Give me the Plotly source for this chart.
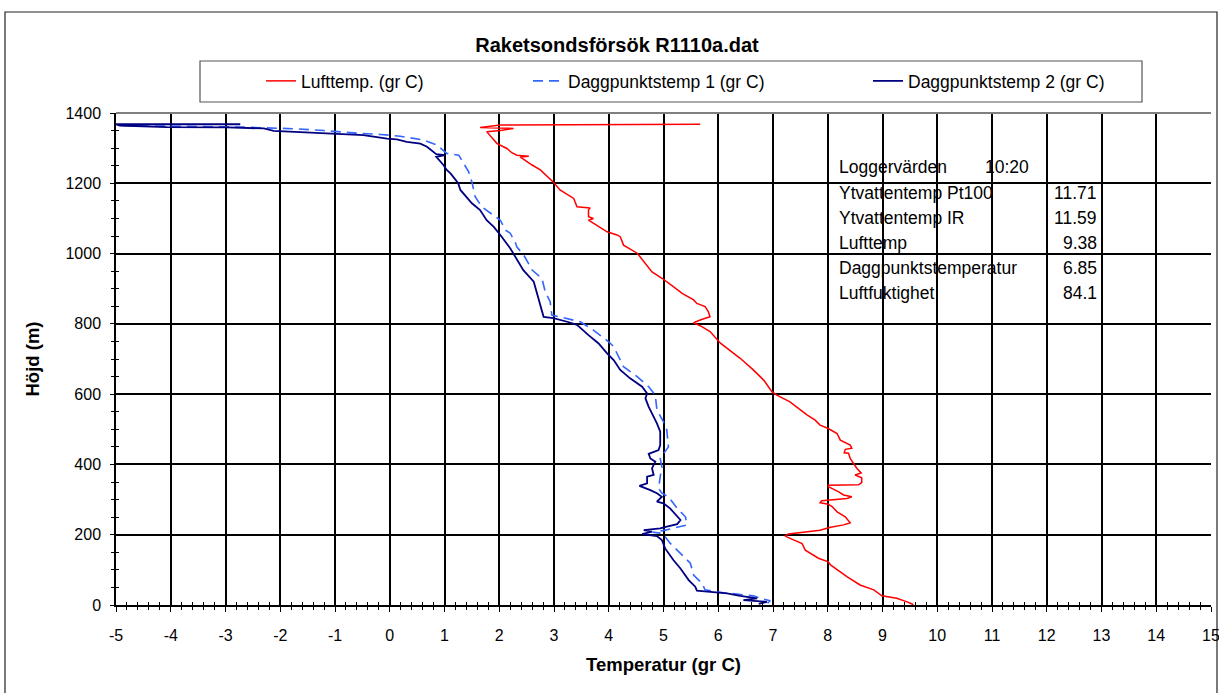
import plotly.graph_objects as go

# ---------------- data ----------------
luft_height = [0, 3, 9, 19, 26, 43, 57, 81, 114, 123, 133, 156, 175, 190, 196, 202, 209, 213, 221, 228,
               234, 244, 251, 265, 280, 287, 291, 297, 301, 303, 308, 313, 322, 329, 337, 341, 342, 348, 362, 370,
               376, 389, 403, 417, 432, 433, 443, 446, 455, 469, 488, 503, 512, 526, 541, 555, 578, 597, 607, 640,
               669, 702, 745, 778, 792, 803, 811, 820, 834, 849, 858, 868, 887, 906, 929, 948, 1001, 1024, 1048, 1053,
               1062, 1095, 1100, 1105, 1124, 1130, 1133, 1157, 1181, 1203, 1238, 1252, 1275, 1277, 1280, 1287, 1299, 1313, 1334, 1347,
               1350, 1356, 1359, 1363, 1366, 1368]
luft_temp = [9.56, 9.54, 9.45, 9.26, 8.99, 8.84, 8.59, 8.35, 8.05, 8.01, 7.83, 7.59, 7.53, 7.31, 7.22, 7.28, 7.62, 7.86, 8.05, 8.29,
             8.41, 8.35, 8.32, 8.17, 8.08, 8.01, 7.86, 7.89, 8.23, 8.35, 8.44, 8.29, 8.20, 8.11, 8.01, 8.01, 8.56, 8.62, 8.62, 8.50,
             8.61, 8.53, 8.47, 8.41, 8.38, 8.30, 8.32, 8.44, 8.41, 8.23, 8.17, 8.00, 7.86, 7.77, 7.62, 7.50, 7.31, 7.07, 6.98, 6.83,
             6.64, 6.40, 6.04, 5.85, 5.70, 5.55, 5.67, 5.85, 5.82, 5.76, 5.61, 5.55, 5.34, 5.18, 4.98, 4.79, 4.52, 4.27, 4.21, 4.15,
             3.97, 3.63, 3.72, 3.63, 3.63, 3.66, 3.42, 3.36, 3.11, 2.99, 2.75, 2.60, 2.38, 2.54, 2.32, 2.23, 2.14, 1.96, 1.84, 1.77,
             2.02, 2.26, 1.65, 1.90, 2.02, 5.67]

dagg1_height = [5, 12, 19, 26, 35, 43, 62, 85, 119, 147, 176, 194, 204, 207, 213, 228, 251, 275, 308, 318,
                332, 365, 393, 417, 436, 450, 498, 521, 555, 597, 621, 650, 678, 735, 749, 782, 806, 818, 825, 863,
                891, 929, 953, 995, 1019, 1029, 1058, 1067, 1095, 1105, 1133, 1162, 1204, 1233, 1280, 1285, 1309, 1323, 1334, 1339,
                1342, 1350, 1355, 1360, 1364]
dagg1_temp = [6.90, 6.95, 6.77, 6.64, 6.10, 5.76, 5.70, 5.55, 5.49, 5.31, 5.12, 5.03, 4.97, 4.80, 5.03, 5.43, 5.40, 5.25, 5.09, 4.97,
              4.91, 4.94, 4.97, 4.94, 5.03, 5.09, 5.06, 5.00, 4.88, 4.85, 4.73, 4.52, 4.27, 4.09, 4.00, 3.72, 3.48, 3.11, 2.96, 2.93,
              2.84, 2.78, 2.60, 2.45, 2.32, 2.30, 2.20, 2.11, 2.02, 1.93, 1.68, 1.56, 1.50, 1.44, 1.26, 1.04, 0.86, 0.62, 0.19, -0.17,
              -0.54, -1.20, -1.73, -2.70, -4.93]

dagg2_height = [3, 9, 14, 19, 26, 33, 41, 52, 71, 104, 128, 161, 185, 196, 202, 209, 213, 218, 223, 230,
                242, 261, 275, 289, 294, 308, 318, 327, 339, 346, 365, 370, 389, 408, 417, 430, 436, 441, 455, 474,
                493, 517, 536, 564, 588, 602, 621, 645, 669, 697, 716, 745, 768, 797, 806, 816, 820, 853, 891, 920,
                953, 991, 1015, 1053, 1076, 1095, 1124, 1143, 1166, 1181, 1200, 1228, 1238, 1252, 1275, 1280, 1283, 1290, 1304, 1313,
                1318, 1325, 1327, 1337, 1340, 1345, 1349, 1356, 1359, 1360, 1364, 1368, 1368]
dagg2_temp = [6.74, 6.89, 6.46, 6.71, 6.40, 6.16, 5.61, 5.58, 5.46, 5.31, 5.18, 5.03, 4.97, 4.88, 4.61, 4.79, 4.64, 4.94, 5.06, 5.25,
              5.31, 5.21, 5.12, 5.00, 4.88, 4.97, 4.88, 4.76, 4.56, 4.70, 4.70, 4.82, 4.79, 4.85, 4.76, 4.73, 4.82, 4.91, 4.94, 4.94,
              4.94, 4.88, 4.82, 4.73, 4.67, 4.70, 4.61, 4.39, 4.21, 4.09, 3.97, 3.81, 3.63, 3.42, 3.24, 2.99, 2.81, 2.75, 2.69, 2.63,
              2.44, 2.29, 2.20, 2.02, 1.90, 1.77, 1.65, 1.50, 1.38, 1.29, 1.25, 1.11, 1.04, 0.98, 0.85, 1.01, 0.85, 0.80, 0.68, 0.56,
              0.31, 0.13, -0.05, -0.48, -0.84, -1.57, -2.12, -2.30, -2.97, -4.07, -4.93, -5.0, -2.73]

series_names = ["Lufttemp. (gr C)", "Daggpunktstemp 1 (gr C)", "Daggpunktstemp 2 (gr C)"]

x_tick_vals = list(range(-5, 16))
x_tick_labels = [str(v) for v in x_tick_vals]
y_tick_vals = list(range(0, 1401, 200))
y_tick_labels = [str(v) for v in y_tick_vals]

table_labels = ["Loggervärden", "Ytvattentemp Pt100", "Ytvattentemp IR", "Lufttemp",
                "Daggpunktstemperatur", "Luftfuktighet"]
table_values = ["10:20", "11.71", "11.59", "9.38", "6.85", "84.1"]

title_text = "Raketsondsförsök R1110a.dat"
x_title = "Temperatur (gr C)"
y_title = "Höjd (m)"

# ---------------- layout geometry ----------------
W, H = 1219, 693
L, R, T, B = 116, 8, 113, 88
PW, PH = W - L - R, H - T - B


def px_x(px):
    return (px - L) / PW


def px_y(py):
    return (H - B - py) / PH


FONT = "Liberation Sans, Arial, sans-serif"
TXT = 17.5

fig = go.Figure()
fig.add_trace(go.Scatter(x=luft_temp, y=luft_height, mode="lines", name=series_names[0],
                         line=dict(color="#FF0000", width=1.5), legend="legend"))
fig.add_trace(go.Scatter(x=dagg1_temp, y=dagg1_height, mode="lines", name=series_names[1],
                         line=dict(color="#3366FF", width=1.6, dash="10px,6px"), legend="legend2"))
fig.add_trace(go.Scatter(x=dagg2_temp, y=dagg2_height, mode="lines", name=series_names[2],
                         line=dict(color="#000080", width=1.8), legend="legend3"))
# empty trace for the overlay axes (cross ticks)
fig.add_trace(go.Scatter(x=[], y=[], xaxis="x2", yaxis="y2", showlegend=False, hoverinfo="skip"))

tickfont = dict(family=FONT, size=16, color="black")

fig.update_layout(
    width=W, height=H,
    margin=dict(l=L, r=R, t=T, b=B, autoexpand=False),
    paper_bgcolor="white", plot_bgcolor="white",
    font=dict(family=FONT, color="black"),
    title=dict(text=title_text, x=617 / W, xanchor="center", y=1 - 45 / H, yanchor="middle",
               font=dict(family=FONT, size=20, weight="bold", color="black")),
    xaxis=dict(range=[-5, 15], tickvals=x_tick_vals, ticktext=x_tick_labels, automargin=False,
               ticklabeloverflow="allow",
               showgrid=True, gridcolor="black", gridwidth=1.5,
               showline=True, linecolor="black", linewidth=1.5, zeroline=False,
               ticks="outside", ticklen=5, tickcolor="black", tickwidth=1.2,
               minor=dict(dtick=0.2, tick0=-5, ticks="outside", ticklen=3, tickcolor="black", tickwidth=1, showgrid=False),
               tickfont=tickfont, ticklabelstandoff=10,
               title=dict(text=x_title, standoff=15, font=dict(family=FONT, size=18.5, weight="bold", color="black"))),
    yaxis=dict(range=[0, 1400], tickvals=y_tick_vals, ticktext=y_tick_labels, automargin=False,
               ticklabeloverflow="allow",
               showgrid=True, gridcolor="black", gridwidth=1.5,
               showline=True, linecolor="black", linewidth=1.5, zeroline=False,
               ticks="outside", ticklen=4, tickcolor="black", tickwidth=1.2,
               minor=dict(dtick=50, tick0=0, ticks="outside", ticklen=3, tickcolor="black", tickwidth=1, showgrid=False),
               tickfont=tickfont, ticklabelstandoff=6,
               title=dict(text=y_title, standoff=21, font=dict(family=FONT, size=18.5, weight="bold", color="black"))),
    xaxis2=dict(overlaying="x", matches="x", anchor="y", side="bottom", range=[-5, 15], automargin=False,
                tickvals=x_tick_vals, showticklabels=False, showgrid=False, zeroline=False, showline=False,
                ticks="inside", ticklen=3, tickcolor="black", tickwidth=1,
                minor=dict(dtick=0.2, tick0=-5, ticks="inside", ticklen=3, tickcolor="black", tickwidth=1, showgrid=False)),
    yaxis2=dict(overlaying="y", matches="y", anchor="x", side="left", range=[0, 1400], automargin=False,
                tickvals=y_tick_vals, showticklabels=False, showgrid=False, zeroline=False, showline=False,
                ticks="inside", ticklen=3, tickcolor="black", tickwidth=1,
                minor=dict(dtick=50, tick0=0, ticks="inside", ticklen=3, tickcolor="black", tickwidth=1, showgrid=False)),
    showlegend=True,
)

leg_common = dict(orientation="h", yanchor="middle", xanchor="left", bgcolor="rgba(0,0,0,0)",
                  borderwidth=0, font=dict(family=FONT, size=TXT, color="black"),
                  itemclick=False, itemdoubleclick=False)
text_starts = [303, 570, 910]
fig.update_layout(
    legend=dict(x=px_x(text_starts[0] - 42), y=px_y(81), **leg_common),
    legend2=dict(x=px_x(text_starts[1] - 42), y=px_y(81), **leg_common),
    legend3=dict(x=px_x(text_starts[2] - 42), y=px_y(81), **leg_common),
)

shapes = [
    # outer chart-area border
    dict(type="rect", xref="paper", yref="paper", x0=px_x(5), x1=px_x(1217), y0=px_y(710), y1=px_y(12),
         line=dict(color="#222222", width=1.2), fillcolor="rgba(0,0,0,0)", layer="below"),
    # legend box
    dict(type="rect", xref="paper", yref="paper", x0=px_x(200), x1=px_x(1142), y0=px_y(102), y1=px_y(61),
         line=dict(color="#555555", width=1.2), fillcolor="rgba(0,0,0,0)", layer="above"),
    # grey plot-area top border
    dict(type="line", xref="paper", yref="paper", x0=0, x1=1, y0=1, y1=1,
         line=dict(color="#808080", width=2), layer="above"),
]
fig.update_layout(shapes=shapes)

# data table inside the plot
row_heights = [1246, 1172, 1101, 1030, 959, 888]
annotations = []
for i, (lab, val) in enumerate(zip(table_labels, table_values)):
    annotations.append(dict(x=8.17, y=row_heights[i], xref="x", yref="y", text=lab, showarrow=False,
                            xanchor="left", yanchor="middle", font=dict(family=FONT, size=TXT, color="black")))
    if i == 0:
        annotations.append(dict(x=10.84, y=row_heights[i], xref="x", yref="y", text=val, showarrow=False,
                                xanchor="left", yanchor="middle", font=dict(family=FONT, size=TXT, color="black")))
    else:
        annotations.append(dict(x=12.95, y=row_heights[i], xref="x", yref="y", text=val, showarrow=False,
                                xanchor="right", yanchor="middle", font=dict(family=FONT, size=TXT, color="black")))
fig.update_layout(annotations=annotations)

fig.write_html("out.html", config={"displayModeBar": False},
               post_script="document.body.style.margin='0';document.body.style.overflow='hidden';")
